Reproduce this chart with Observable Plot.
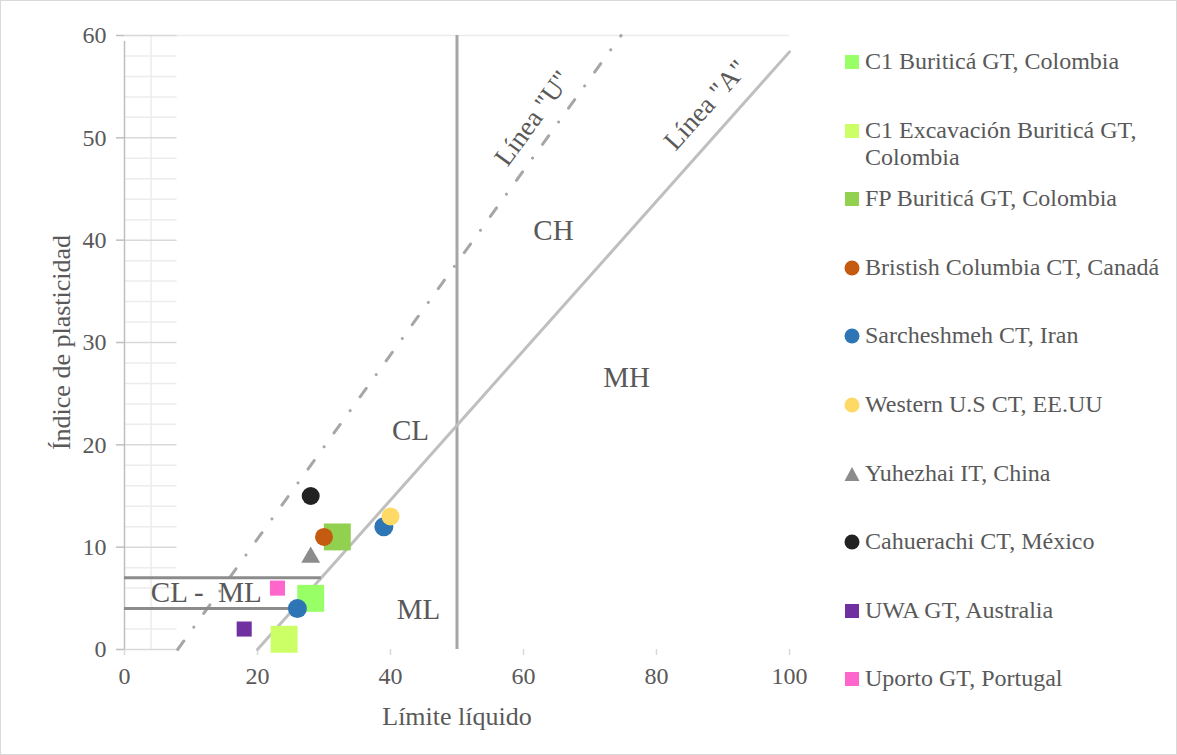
<!DOCTYPE html>
<html>
<head>
<meta charset="utf-8">
<script src="https://cdn.jsdelivr.net/npm/d3@7"></script>
<script src="https://cdn.jsdelivr.net/npm/@observablehq/plot@0.6"></script>
<style>
  html, body { margin: 0; padding: 0; background: #fff; }
  #wrap { position: relative; width: 1177px; height: 755px; overflow: hidden; font-family: "Liberation Serif", "Times New Roman", serif; }
  #border { position: absolute; left: 0; top: 0; width: 1177px; height: 755px; box-sizing: border-box; border: 1px solid #d9d9d9; pointer-events: none; }
  #chart { position: absolute; left: 0; top: 0; }
  #legend { position: absolute; left: 844px; top: 48px; width: 330px; color: #595959; font-size: 24px; }
  .item { position: relative; height: 68.6px; }
  .item svg { position: absolute; left: 0; top: 6px; }
  .item .lab { position: absolute; left: 21px; top: 0; line-height: 27px; width: 306px; }
</style>
</head>
<body>
<div id="wrap">
  <div id="chart"></div>
  <div id="legend"></div>
  <div id="border"></div>
</div>
<script>
// ---- Data ----
const seriesNames = [
  "C1 Buriticá GT, Colombia",
  "C1 Excavación Buriticá GT, Colombia",
  "FP Buriticá GT, Colombia",
  "Bristish Columbia CT, Canadá",
  "Sarcheshmeh CT, Iran",
  "Western U.S CT, EE.UU",
  "Yuhezhai IT, China",
  "Cahuerachi CT, México",
  "UWA GT, Australia",
  "Uporto GT, Portugal"
];
const pointSeries = [
  "C1 Buriticá GT, Colombia",
  "C1 Excavación Buriticá GT, Colombia",
  "FP Buriticá GT, Colombia",
  "Bristish Columbia CT, Canadá",
  "Sarcheshmeh CT, Iran",
  "Sarcheshmeh CT, Iran",
  "Western U.S CT, EE.UU",
  "Yuhezhai IT, China",
  "Cahuerachi CT, México",
  "UWA GT, Australia",
  "Uporto GT, Portugal"
];
const liquidLimit      = [28, 24, 32, 30, 26, 39, 40, 28, 28, 18, 23];
const plasticityIndex  = [ 5,  1, 11, 11,  4, 12, 13,  9, 15,  2,  6];

// Reference lines (endpoints in data units)
const aLineLL = [20, 100];
const aLinePI = [0, 58.4];
const uLineLL = [8, 74.67];
const uLinePI = [0, 60];
const llBoundary = 50;
const clmlPI = [4, 7];
const clmlEndLL = [25.5, 29.6];

// Zone labels
const zoneText = ["CH", "MH", "CL", "ML", "CL -  ML"];
const zoneLL   = [64.5, 75.5, 43, 44.2, 12.3];
const zonePI   = [40.9, 26.6, 21.4, 3.9, 5.5];
const lineText = ['Línea "U"', 'Línea "A"'];
const lineTextLL = [61.4, 87.4];
const lineTextPI = [51.9, 53.2];

const xTicks = [0, 20, 40, 60, 80, 100];
const yTicks = [0, 10, 20, 30, 40, 50, 60];

// ---- Styles ----
const seriesStyle = {
  "C1 Buriticá GT, Colombia":            {color: "#99ff66", symbol: "square",   r: 15.2, legendShape: "square"},
  "C1 Excavación Buriticá GT, Colombia": {color: "#ccff66", symbol: "square",   r: 15.2, legendShape: "square"},
  "FP Buriticá GT, Colombia":            {color: "#92d050", symbol: "square",   r: 15.2, legendShape: "square"},
  "Bristish Columbia CT, Canadá":        {color: "#c55a11", symbol: "circle",   r: 9,    legendShape: "circle"},
  "Sarcheshmeh CT, Iran":                {color: "#2e75b6", symbol: "circle",   r: 9.5,  legendShape: "circle"},
  "Western U.S CT, EE.UU":               {color: "#ffd966", symbol: "circle",   r: 9,    legendShape: "circle"},
  "Yuhezhai IT, China":                  {color: "#8c8c8c", symbol: "triangle", r: 7,    legendShape: "triangle"},
  "Cahuerachi CT, México":               {color: "#222222", symbol: "circle",   r: 9,    legendShape: "circle"},
  "UWA GT, Australia":                   {color: "#7030a0", symbol: "square",   r: 8.5,  legendShape: "square"},
  "Uporto GT, Portugal":                 {color: "#ff66cc", symbol: "square",   r: 8.5,  legendShape: "square"}
};

const points = pointSeries.map((s, i) => ({series: s, ll: liquidLimit[i], pi: plasticityIndex[i]}));
const textColor = "#595959";
const font = '"Liberation Serif", "Times New Roman", serif';

const pointMarks = seriesNames.map(s => {
  const st = seriesStyle[s];
  return Plot.dot(points.filter(p => p.series === s), {
    x: "ll", y: "pi", symbol: st.symbol, r: st.r, fill: st.color, stroke: "none"
  });
});

const minorY = d3.range(0, 61, 2).filter(v => v % 10 !== 0);

const chart = Plot.plot({
  width: 830,
  height: 755,
  marginLeft: 124,
  marginRight: 41,
  marginTop: 35,
  marginBottom: 106,
  style: {fontFamily: font, fontSize: "24px", color: textColor, background: "transparent"},
  x: {domain: [0, 100]},
  y: {domain: [0, 60]},
  marks: [
    // light grid region on the left
    Plot.ruleY(minorY, {x1: 0, x2: 7.9, stroke: "#ececec", strokeWidth: 1.5}),
    Plot.ruleX([4], {y1: 0, y2: 60, stroke: "#ececec", strokeWidth: 1.5}),
    Plot.ruleY([60], {x1: 0, x2: 100, stroke: "#ececec", strokeWidth: 1.5}),
    Plot.ruleY(yTicks, {x1: 0, x2: 7.9, stroke: "#d9d9d9", strokeWidth: 1.5}),
    // y axis line
    Plot.ruleX([0], {y1: 0, y2: 60, stroke: "#bfbfbf", strokeWidth: 1.5, insetBottom: -6}),
    Plot.axisY({ticks: yTicks, tickSize: 8, tickPadding: 10, stroke: "#bfbfbf", strokeWidth: 1.5, label: null, fontSize: 24, fill: textColor}),
    Plot.axisX({ticks: xTicks, tickSize: 6, tickPadding: 11, stroke: "#d9d9d9", strokeWidth: 1.5, label: null, fontSize: 24, fill: textColor}),
    // axis titles
    Plot.text(["Límite líquido"], {frameAnchor: "bottom", dy: 67, fontSize: 26, fill: textColor, textAnchor: "middle", lineAnchor: "middle"}),
    Plot.text(["Índice de plasticidad"], {frameAnchor: "left", dx: -63, rotate: -90, fontSize: 26, fill: textColor, textAnchor: "middle", lineAnchor: "middle"}),
    // classification lines
    Plot.ruleX([llBoundary], {y1: 0, y2: 60, stroke: "#a6a6a6", strokeWidth: 3}),
    Plot.line(aLineLL.map((v, i) => [v, aLinePI[i]]), {stroke: "#bfbfbf", strokeWidth: 3}),
    Plot.line(uLineLL.map((v, i) => [v, uLinePI[i]]), {stroke: "#a6a6a6", strokeWidth: 3, strokeLinecap: "round", strokeDasharray: "10.5,17,0.01,17"}),
    Plot.ruleY(clmlPI, {x1: 0, x2: (d, i) => clmlEndLL[i], stroke: "#8c8c8c", strokeWidth: 3}),
    // zone labels
    Plot.text(zoneText, {x: (d, i) => zoneLL[i], y: (d, i) => zonePI[i], fontSize: 29, fill: textColor}),
    Plot.text([lineText[0]], {x: lineTextLL[0], y: lineTextPI[0], rotate: -54, fontSize: 27, fill: textColor}),
    Plot.text([lineText[1]], {x: lineTextLL[1], y: lineTextPI[1], rotate: -48, fontSize: 27, fill: textColor}),
    ...pointMarks
  ]
});
document.getElementById("chart").appendChild(chart);

// ---- Legend (HTML) ----
const legend = d3.select("#legend");
seriesNames.forEach(s => {
  const st = seriesStyle[s];
  const item = legend.append("div").attr("class", "item");
  const svg = item.append("svg").attr("width", 16).attr("height", 16);
  if (st.legendShape === "square") svg.append("rect").attr("x", 1).attr("y", 1).attr("width", 14).attr("height", 14).attr("fill", st.color);
  else if (st.legendShape === "circle") svg.append("circle").attr("cx", 8).attr("cy", 8).attr("r", 7.5).attr("fill", st.color);
  else svg.append("polygon").attr("points", "8,1 15.5,15 0.5,15").attr("fill", st.color);
  item.append("div").attr("class", "lab").text(s);
});
</script>
</body>
</html>
